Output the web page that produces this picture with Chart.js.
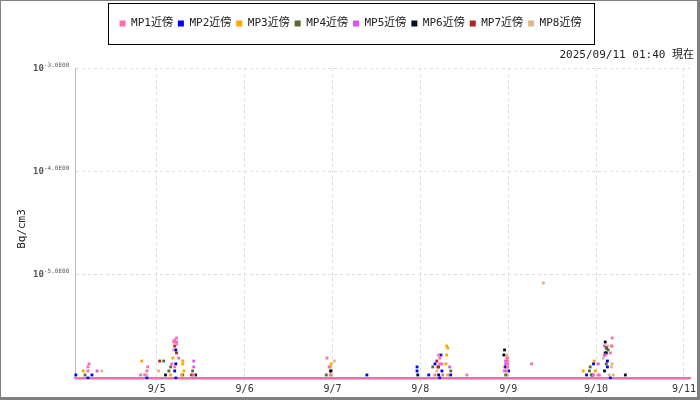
<!DOCTYPE html>
<html>
<head>
<meta charset="utf-8">
<script src="https://cdn.jsdelivr.net/npm/chart.js@4.4.1/dist/chart.umd.min.js"></script>
<style>
  html, body { margin: 0; padding: 0; background: #fff; }
  #wrap { width: 696px; height: 396px; border-style: solid; border-color: #808080; border-width: 1px 3px 3px 1px; }
  canvas { display: block; }
</style>
</head>
<body>
<div id="wrap"><canvas id="chart" width="696" height="396"></canvas></div>
<script>
//! Data (x = hours since 2025/09/04 00:00, y = Bq/cm3)

const seriesNames = ["MP1近傍", "MP2近傍", "MP3近傍", "MP4近傍", "MP5近傍", "MP6近傍", "MP7近傍", "MP8近傍"];

const mp1 = [[5.5, 1.37e-6], [5.2, 1.28e-6], [5.2, 1.17e-6], [21.5, 1.28e-6], [21.3, 1.17e-6], [19.6, 1.07e-6], [20.7, 1.07e-6],
  [29.4, 2.44e-6], [28.9, 2.33e-6], [28.6, 2.23e-6], [29.4, 2.23e-6], [29.4, 2.13e-6], [30.0, 1.56e-6], [28.1, 1.37e-6],
  [28.9, 1.28e-6], [34.1, 1.07e-6], [70.5, 1.56e-6], [71.1, 1.28e-6], [71.6, 1.07e-6], [101.0, 1.67e-6], [101.3, 1.56e-6],
  [101.3, 1.37e-6], [101.9, 1.37e-6], [100.0, 1.07e-6], [102.1, 1.07e-6], [108.7, 1.07e-6], [119.8, 1.56e-6], [119.8, 1.46e-6],
  [119.8, 1.37e-6], [119.8, 1.28e-6], [119.6, 1.17e-6], [126.4, 1.37e-6], [148.4, 2.44e-6], [148.2, 2.04e-6], [147.9, 1.75e-6],
  [143.3, 1.07e-6], [144.6, 1.07e-6], [144.9, 1.07e-6]];
const mp2 = [[1.9, 1.07e-6], [6.3, 1.07e-6], [5.2, 1.0e-6], [21.3, 1.0e-6], [29.2, 1.0e-6], [29.2, 1.87e-6], [29.2, 1.37e-6],
  [28.9, 1.17e-6], [81.4, 1.07e-6], [101.6, 1.67e-6], [100.0, 1.37e-6], [95.1, 1.28e-6], [95.1, 1.17e-6], [101.9, 1.17e-6],
  [98.3, 1.07e-6], [104.3, 1.07e-6], [101.3, 1.0e-6], [119.3, 1.28e-6], [120.1, 1.17e-6], [147.1, 1.46e-6], [143.3, 1.37e-6],
  [147.1, 1.28e-6], [141.4, 1.07e-6], [147.9, 1.0e-6]];
const mp3 = [[3.9, 1.17e-6], [19.9, 1.46e-6], [28.4, 1.56e-6], [31.1, 1.46e-6], [31.1, 1.37e-6], [31.4, 1.17e-6], [27.8, 1.07e-6],
  [30.8, 1.07e-6], [71.6, 1.37e-6], [71.4, 1.28e-6], [71.4, 1.07e-6], [103.2, 2.04e-6], [103.5, 1.95e-6], [103.2, 1.67e-6],
  [103.0, 1.37e-6], [103.5, 1.07e-6], [119.6, 1.56e-6], [119.0, 1.28e-6], [143.5, 1.46e-6], [140.5, 1.17e-6], [143.8, 1.17e-6]];
const mp4 = [[4.4, 1.07e-6], [25.9, 1.46e-6], [27.8, 1.28e-6], [27.3, 1.17e-6], [33.8, 1.17e-6], [31.1, 1.07e-6], [70.3, 1.07e-6],
  [99.4, 1.28e-6], [104.3, 1.17e-6], [119.3, 1.07e-6], [146.8, 1.95e-6], [147.3, 1.87e-6], [146.8, 1.37e-6], [142.4, 1.28e-6],
  [142.2, 1.17e-6], [142.7, 1.07e-6]];
const mp5 = [[7.7, 1.17e-6], [34.1, 1.46e-6], [34.1, 1.28e-6], [104.0, 1.28e-6], [119.3, 1.46e-6], [119.3, 1.37e-6],
  [119.0, 1.17e-6], [146.3, 2.04e-6], [146.3, 1.67e-6], [146.5, 1.67e-6], [144.6, 1.37e-6]];
const mp6 = [[26.4, 1.07e-6], [34.6, 1.07e-6], [71.6, 1.17e-6], [95.3, 1.07e-6], [101.0, 1.07e-6], [119.0, 1.87e-6],
  [118.8, 1.67e-6], [146.5, 2.23e-6], [146.8, 1.95e-6], [146.5, 1.75e-6], [146.8, 1.75e-6], [146.3, 1.17e-6], [143.0, 1.07e-6],
  [152.0, 1.07e-6]];
const mp7 = [[24.8, 1.46e-6], [28.9, 2.04e-6], [29.4, 1.75e-6], [33.5, 1.07e-6], [71.4, 1.17e-6], [100.5, 1.46e-6],
  [100.8, 1.28e-6], [101.0, 1.28e-6]];
const mp8 = [[9.0, 1.17e-6], [21.3, 1.07e-6], [24.5, 1.17e-6], [28.6, 1.87e-6], [72.5, 1.46e-6], [100.5, 1.17e-6],
  [119.6, 1.67e-6], [119.8, 1.07e-6], [129.6, 8.3e-6], [147.1, 2.04e-6], [148.4, 2.04e-6], [146.0, 1.56e-6], [148.4, 1.37e-6],
  [148.2, 1.28e-6], [147.6, 1.07e-6], [148.7, 1.07e-6]];

const xMin = 1 + 40 / 60;          // 9/4 01:40
const xMax = 7 * 24 + 1 + 40 / 60; // 9/11 01:40
const xTickHours = [24, 48, 72, 96, 120, 144, 168];
const xTickLabels = ["9/5", "9/6", "9/7", "9/8", "9/9", "9/10", "9/11"];
const yTickValues = [1e-3, 1e-4, 1e-5];
const yTickExps = ["-3.0E00", "-4.0E00", "-5.0E00"];
const yMin = 1e-6;
const yMax = 1e-3;
const stamp = "2025/09/11 01:40 現在";
const unitLabel = "Bq/cm3";

const seriesColors = ["#ff69b4", "#0000ff", "#ffa500", "#556b2f", "#dd55ee", "#001020", "#b22222", "#deb887"];
const allSeries = [mp1, mp2, mp3, mp4, mp5, mp6, mp7, mp8];

const MONO = "'DejaVu Sans Mono', 'Noto Sans CJK JP', monospace";

//! Plugins

const legendFrame = {
  id: "legendFrame",
  afterDraw(chart) {
    const lg = chart.legend;
    if (!lg || !lg.legendHitBoxes.length) return;
    const boxes = lg.legendHitBoxes;
    const first = boxes[0];
    const last = boxes[boxes.length - 1];
    const ctx = chart.ctx;
    ctx.save();
    ctx.strokeStyle = "#000";
    ctx.lineWidth = 1;
    ctx.strokeRect(Math.round(first.left - 12) + 0.5, 2.5, Math.round(last.left + last.width + 12 - (first.left - 12)), 41);
    ctx.restore();
  },
};

const yAxisText = {
  id: "yAxisText",
  afterDraw(chart) {
    const ctx = chart.ctx;
    const ys = chart.scales.y;
    const area = chart.chartArea;
    ctx.save();
    ctx.fillStyle = "#555";
    ctx.textBaseline = "middle";
    yTickValues.forEach((v, i) => {
      const py = ys.getPixelForValue(v);
      ctx.font = "bold 9px " + MONO;
      ctx.textAlign = "left";
      ctx.fillText("10", 32, py);
      ctx.font = "6px " + MONO;
      ctx.fillText(yTickExps[i], 43, py - 3);
    });
    // unit label
    ctx.fillStyle = "#222";
    ctx.font = "11px " + MONO;
    ctx.translate(21, 228);
    ctx.rotate(-Math.PI / 2);
    ctx.textAlign = "center";
    ctx.fillText(unitLabel, 0, 0);
    ctx.restore();
    // thin grey line under the pink baseline
    ctx.save();
    ctx.strokeStyle = "#c8c8c8";
    ctx.lineWidth = 1;
    ctx.beginPath();
    ctx.moveTo(area.left, area.bottom + 1.5);
    ctx.lineTo(area.right, area.bottom + 1.5);
    ctx.stroke();
    ctx.restore();
  },
};

//! Chart

new Chart(document.getElementById("chart"), {
  type: "scatter",
  data: {
    datasets: allSeries.map((s, i) => ({
      label: seriesNames[i],
      data: s.map((p) => ({ x: p[0], y: p[1] })),
      backgroundColor: seriesColors[i],
      borderColor: seriesColors[i],
      borderWidth: 0,
      pointStyle: "rect",
      pointRadius: 2,
      pointHoverRadius: 2,
      pointBorderWidth: 0,
      clip: false,
    })),
  },
  options: {
    responsive: false,
    animation: false,
    layout: { padding: { left: 6, right: 3, top: 12, bottom: 0 } },
    plugins: {
      legend: {
        display: true,
        position: "top",
        labels: {
          boxWidth: 6,
          boxHeight: 6,
          padding: 5,
          color: "#222",
          font: { family: MONO, size: 11 },
        },
      },
      title: {
        display: true,
        text: stamp,
        align: "end",
        weight: 500,
        color: "#222",
        font: { family: MONO, size: 11, weight: "normal" },
        padding: { top: 10, bottom: 6 },
      },
      tooltip: { enabled: false },
    },
    scales: {
      x: {
        type: "linear",
        min: xMin,
        max: xMax,
        afterBuildTicks: (scale) => {
          scale.ticks = xTickHours.map((v) => ({ value: v }));
        },
        afterFit: (scale) => {
          scale.height = 19;
        },
        ticks: {
          autoSkip: false,
          maxRotation: 0,
          padding: 1,
          color: "#333",
          font: { family: MONO, size: 10 },
          callback: (v) => xTickLabels[xTickHours.indexOf(v)],
        },
        grid: { color: "#dcdcdc", tickLength: 4, tickColor: "#dcdcdc" },
        border: { display: true, color: "#ff69b4", width: 2, dash: [3, 3] },
      },
      y: {
        type: "logarithmic",
        min: yMin,
        max: yMax,
        afterBuildTicks: (scale) => {
          scale.ticks = yTickValues.map((v) => ({ value: v }));
        },
        afterFit: (scale) => {
          scale.width = 68;
        },
        ticks: { display: false },
        grid: { color: "#dcdcdc", tickLength: 0 },
        border: { display: true, color: "#bbbbbb", width: 1, dash: [3, 3] },
      },
    },
  },
  plugins: [legendFrame, yAxisText],
});
</script>
</body>
</html>
